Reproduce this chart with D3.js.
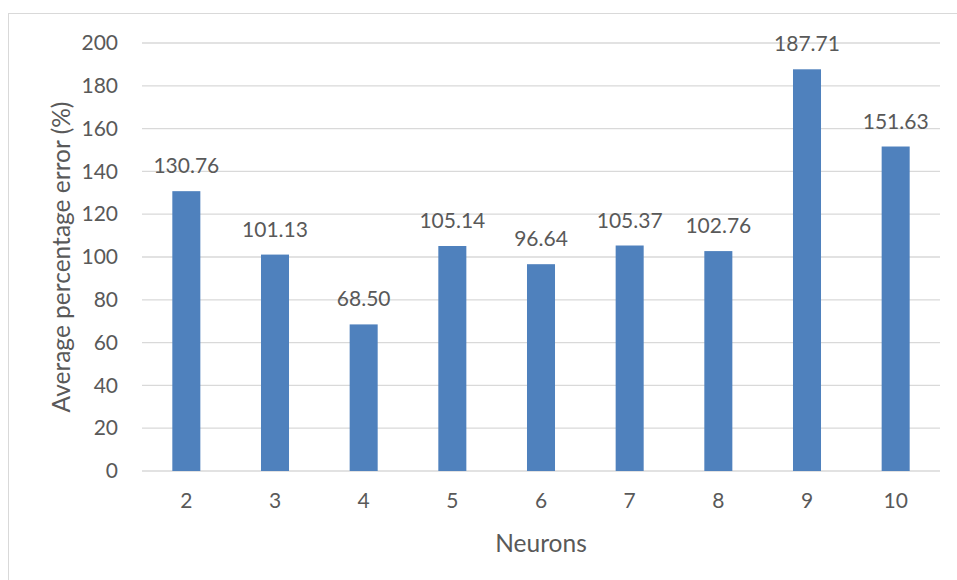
<!DOCTYPE html>
<html>
<head>
<meta charset="utf-8">
<script src="https://cdn.jsdelivr.net/npm/d3@7"></script>
<style>
  html, body { margin: 0; padding: 0; background: #fff; }
  svg { display: block; }
  text { font-family: Lato, "Open Sans", sans-serif; fill: #595959; }
</style>
</head>
<body>
<svg id="chart" width="957" height="580"></svg>
<script>
// Average percentage error by number of hidden neurons
const neurons = ["2", "3", "4", "5", "6", "7", "8", "9", "10"];
const avgError = [130.76, 101.13, 68.50, 105.14, 96.64, 105.37, 102.76, 187.71, 151.63];
const yTicks = [0, 20, 40, 60, 80, 100, 120, 140, 160, 180, 200];

const svg = d3.select("#chart");
const W = 957, H = 580;
const margin = { left: 142, right: 17, top: 43, bottom: 109 };
const innerW = W - margin.left - margin.right;
const innerH = H - margin.top - margin.bottom;

// Outer chart frame
svg.append("rect")
  .attr("x", 8.5).attr("y", 13.5)
  .attr("width", W - 8).attr("height", H)
  .attr("fill", "none").attr("stroke", "#d9d9d9").attr("stroke-width", 1);

const g = svg.append("g").attr("transform", `translate(${margin.left},${margin.top})`);

const x = d3.scaleBand().domain(neurons).range([0, innerW]).paddingInner(0.684).paddingOuter(0.342);
const y = d3.scaleLinear().domain([0, 200]).range([innerH, 0]);

// Horizontal gridlines
g.append("g").selectAll("line").data(yTicks).join("line")
  .attr("x1", 0).attr("x2", innerW)
  .attr("y1", d => y(d)).attr("y2", d => y(d))
  .attr("stroke", "#d9d9d9").attr("stroke-width", 1.3);

// Y axis labels
const yAxis = g.append("g").call(d3.axisLeft(y).tickValues(yTicks).tickSize(0).tickPadding(24));
yAxis.select(".domain").remove();
yAxis.selectAll("text").style("font-size", "21px").attr("fill", "#595959");

// X axis labels
const xAxis = g.append("g").attr("transform", `translate(0,${innerH})`)
  .call(d3.axisBottom(x).tickSize(0).tickPadding(22));
xAxis.select(".domain").remove();
xAxis.selectAll("text").style("font-size", "21px").attr("fill", "#595959");

// Bars
const data = neurons.map((n, i) => ({ n, v: avgError[i] }));
g.append("g").selectAll("rect").data(data).join("rect")
  .attr("x", d => x(d.n)).attr("width", x.bandwidth())
  .attr("y", d => y(d.v)).attr("height", d => innerH - y(d.v))
  .attr("fill", "#4f81bd");

// Value labels
g.append("g").selectAll("text").data(data).join("text")
  .attr("x", d => x(d.n) + x.bandwidth() / 2)
  .attr("y", d => y(d.v) - 18)
  .attr("text-anchor", "middle")
  .style("font-size", "21px")
  .text(d => d.v.toFixed(2));

// Axis titles
svg.append("text")
  .attr("x", margin.left + innerW / 2).attr("y", 552)
  .attr("text-anchor", "middle").style("font-size", "24.5px")
  .text("Neurons");

svg.append("text")
  .attr("transform", `translate(70,${margin.top + innerH / 2}) rotate(-90)`)
  .attr("text-anchor", "middle").style("font-size", "24.5px")
  .text("Average percentage error (%)");
</script>
</body>
</html>
